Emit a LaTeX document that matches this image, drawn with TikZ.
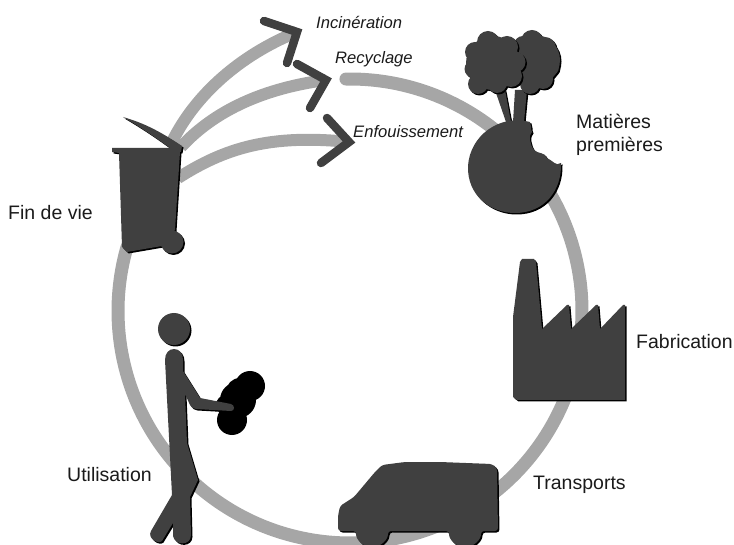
\documentclass[tikz,border=0pt]{standalone}
\usepackage{fontspec}
\setmainfont{Liberation Sans}
\definecolor{ink}{HTML}{404040}
\definecolor{ringgray}{HTML}{A6A6A6}
\definecolor{txt}{HTML}{1A1A1A}
\newcommand{\icon}[1]{%
  \fill[black,shift={(1.5,1.5)}] #1;%
  \fill[ink] #1;}
\tikzset{
  ring/.style={draw=ringgray,line width=13pt,line cap=round},
  flow/.style={draw=ringgray,line width=12pt},
  chevron/.style={draw=ink,line width=8.5pt,line cap=round,line join=miter},
  lab/.style={text=txt,font=\fontsize{19.5}{23}\selectfont,inner sep=0pt,align=left},
  sublab/.style={text=txt,font=\fontsize{16.6}{19}\selectfont\itshape,inner sep=0pt}
}
\begin{document}
\begin{tikzpicture}[x=1pt,y=-1pt]
\useasboundingbox (0,0) rectangle (734,545);
\coordinate (binA) at (172,142);
\coordinate (binB) at (181,147);
\coordinate (binC) at (178,178);
\coordinate (tipA) at (297,32);
\coordinate (tipB) at (326,80);
\coordinate (tipC) at (349,142);
% main ring
\draw[ring] plot[domain=-91:196,samples=220,smooth] ({350+232*cos(\x)},{311+232*sin(\x)});
% flows
\draw[flow] (binA) .. controls (195,95) and (240,55) .. (tipA);
\draw[flow] (binB) .. controls (215,110) and (265,88) .. (tipB);
\draw[flow] (binC) .. controls (225,148) and (270,134) .. (tipC);
% chevrons
\draw[chevron] (264,21) -- (tipA) -- (287,63);
\draw[chevron] (297,64) -- (tipB) -- (310,108);
\draw[chevron] (327,118) -- (tipC) -- (321,163);
% bin
\icon{(123,117) .. controls (140,122) and (155,128) .. (182,146) -- (181,152) -- (180,152) -- (175,230) -- (162,246) -- (127,252) -- (122,247) -- (119,153) -- (112,152) -- (112,148) -- (170,148) .. controls (155,137) and (140,127) .. (123,117) -- cycle}
\icon{(172,242) circle (11.5)}
% trees
\icon{(495,90) -- (506,122) -- (511,122) -- (505,90) -- cycle}
\icon{(515,90) -- (513,122) -- (524,122) -- (527,90) -- cycle}
\icon{(535,60) circle (25) (532,41) circle (11) (545,48) circle (11) (550,67) circle (9) (543,79) circle (10) (530,84) circle (10) (523,45) circle (9)}
\icon{(493,63) circle (27) (488,42) circle (11) (507,47) circle (11) (515,62) circle (10.5) (511,76) circle (11) (497,83) circle (10) (478,84) circle (10) (473,69) circle (8.5) (475,52) circle (10)}
% sphere with bite
\icon{(530,122) .. controls (500,114) and (470,135) .. (468,166) .. controls (467,195) and (490,213) .. (515,213) .. controls (545,213) and (562,190) .. (561,163)
 .. controls (556,167) and (552,160) .. (547,158) .. controls (545,152) and (538,154) .. (534,150) .. controls (530,145) and (528,135) .. (532,132) .. controls (530,128) and (532,125) .. (530,122) -- cycle}
% factory
\icon{(513,392) -- (513,317) -- (520,262) -- (522,259) -- (534,259) -- (536,262) -- (542,329) -- (567,305) -- (569,305) -- (571,329) -- (596,305) -- (598,305) -- (600,329) -- (623,305) -- (625,305) -- (625,400) -- (517,400) -- (513,397) -- cycle}
% van
\begin{scope}[rounded corners=3pt]
\icon{(338,516) -- (340,506) -- (354,497) -- (375,472) -- (382,465) -- (405,462) -- (440,462) -- (492,464) -- (497,468) -- (498,531) -- (481,531) arc[start angle=0,end angle=180,radius=16] -- (388,531) arc[start angle=0,end angle=180,radius=16] -- (338,531) -- cycle}
\end{scope}
% blob
\fill[black] (250,386) circle (15) (240,392) circle (14) (238,400) circle (18) (232,420) circle (15) (226,405) circle (10);
% person
\icon{(174,329) circle (16)}
\icon{(174,349) .. controls (180,349) and (183,354) .. (183,360) -- (183,371) -- (200,398) -- (231,404) .. controls (235,405) and (235,411) .. (231,411) -- (196,409) .. controls (193,409) and (191,407) .. (190,405) -- (185,394) -- (187,443) -- (198,480) -- (190,497) -- (191,535) .. controls (191,546) and (175,546) .. (173,536) -- (173,523) -- (162,541) .. controls (158,545) and (147,538) .. (151,531) -- (172,495) -- (165,360) .. controls (165,353) and (169,349) .. (174,349) -- cycle}
% labels
\node[sublab,anchor=west] (inc) at (316,22) {Incinération};
\node[sublab,anchor=west] (rec) at (335,59) {Recyclage};
\node[sublab,anchor=west] (enf) at (353,132) {Enfouissement};
\node[lab,anchor=west] (mat) at (576,135) {Matières\\premières};
\node[lab,anchor=west] (fab) at (636,342) {Fabrication};
\node[lab,anchor=west] (tra) at (533,485) {Transports};
\node[lab,anchor=west] (uti) at (67,475) {Utilisation};
\node[lab,anchor=west] (fin) at (8,213) {Fin de vie};
\end{tikzpicture}
\end{document}
